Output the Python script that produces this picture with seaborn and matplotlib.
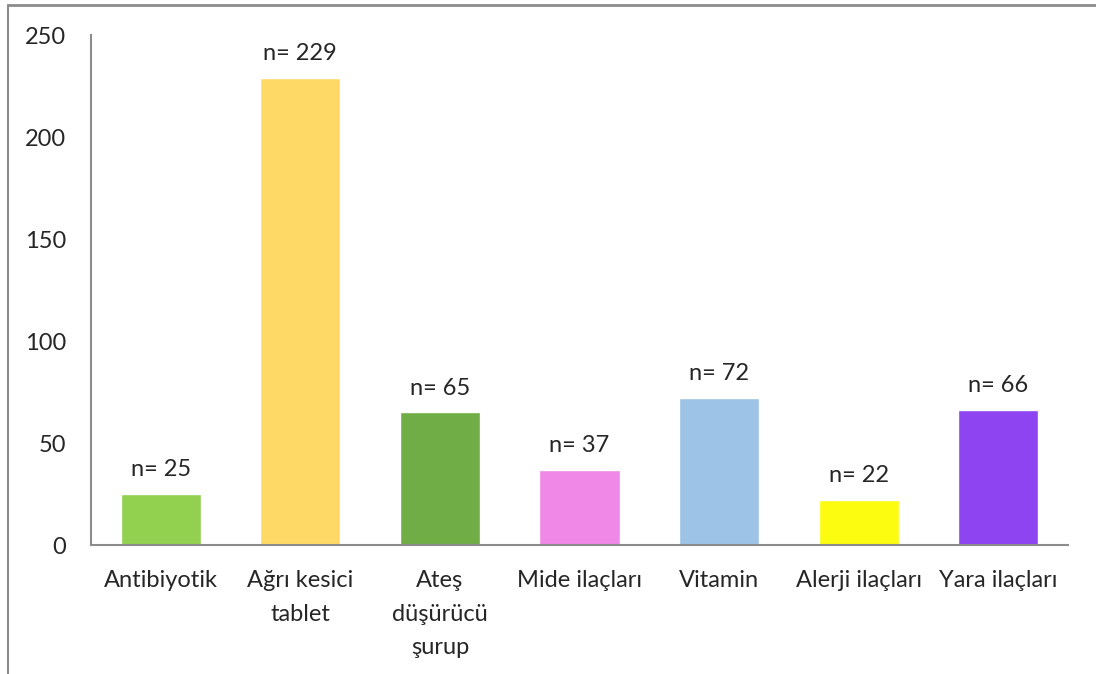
import pandas as pd
import seaborn as sns
import matplotlib.pyplot as plt
from matplotlib.lines import Line2D

categories = ["Antibiyotik", "Ağrı kesici\ntablet", "Ateş\ndüşürücü\nşurup", "Mide ilaçları",
              "Vitamin", "Alerji ilaçları", "Yara ilaçları"]
counts = [25, 229, 65, 37, 72, 22, 66]
colors = ["#92D050", "#FFD966", "#70AD47", "#F088E8", "#9DC3E6", "#FCFC10", "#8E44F0"]
y_ticks = [0, 50, 100, 150, 200, 250]

df = pd.DataFrame({"cat": categories, "n": counts})

sns.set_style("white")
plt.rcParams['font.family'] = ['Lato', 'DejaVu Sans']
fs = 17

fig = plt.figure(figsize=(10.96, 6.74), dpi=100)
ax = fig.add_axes([91/1096, 1 - 545/674, (1068 - 91)/1096, (545 - 35)/674])

sns.barplot(data=df, x="cat", y="n", hue="cat", palette=colors, legend=False,
            width=0.575, saturation=1, ax=ax)

for i, v in enumerate(counts):
    ax.annotate(f"n= {v}", (i, v), xytext=(0, 10), textcoords="offset points",
                ha="center", va="bottom", fontsize=fs)

ax.set_ylim(0, 250)
ax.set_yticks(y_ticks)
ax.set_xlim(-0.5, len(categories) - 0.5)
ax.set_xlabel("")
ax.set_ylabel("")
ax.tick_params(axis="y", length=0, pad=18, labelsize=fs)
ax.tick_params(axis="x", length=0, pad=18, labelsize=fs)
for lbl in ax.get_xticklabels():
    lbl.set_linespacing(1.75)

sns.despine(ax=ax)
for s in ["left", "bottom"]:
    ax.spines[s].set_color("#8C8C8C")
    ax.spines[s].set_linewidth(1.5)

# outer frame
fig.add_artist(Line2D([8/1096, 8/1096], [0, 1 - 5/674], color="#8C8C8C", lw=1.5))
fig.add_artist(Line2D([8/1096, 1], [1 - 5/674, 1 - 5/674], color="#8C8C8C", lw=2))

fig.savefig("out.png", dpi=100)
